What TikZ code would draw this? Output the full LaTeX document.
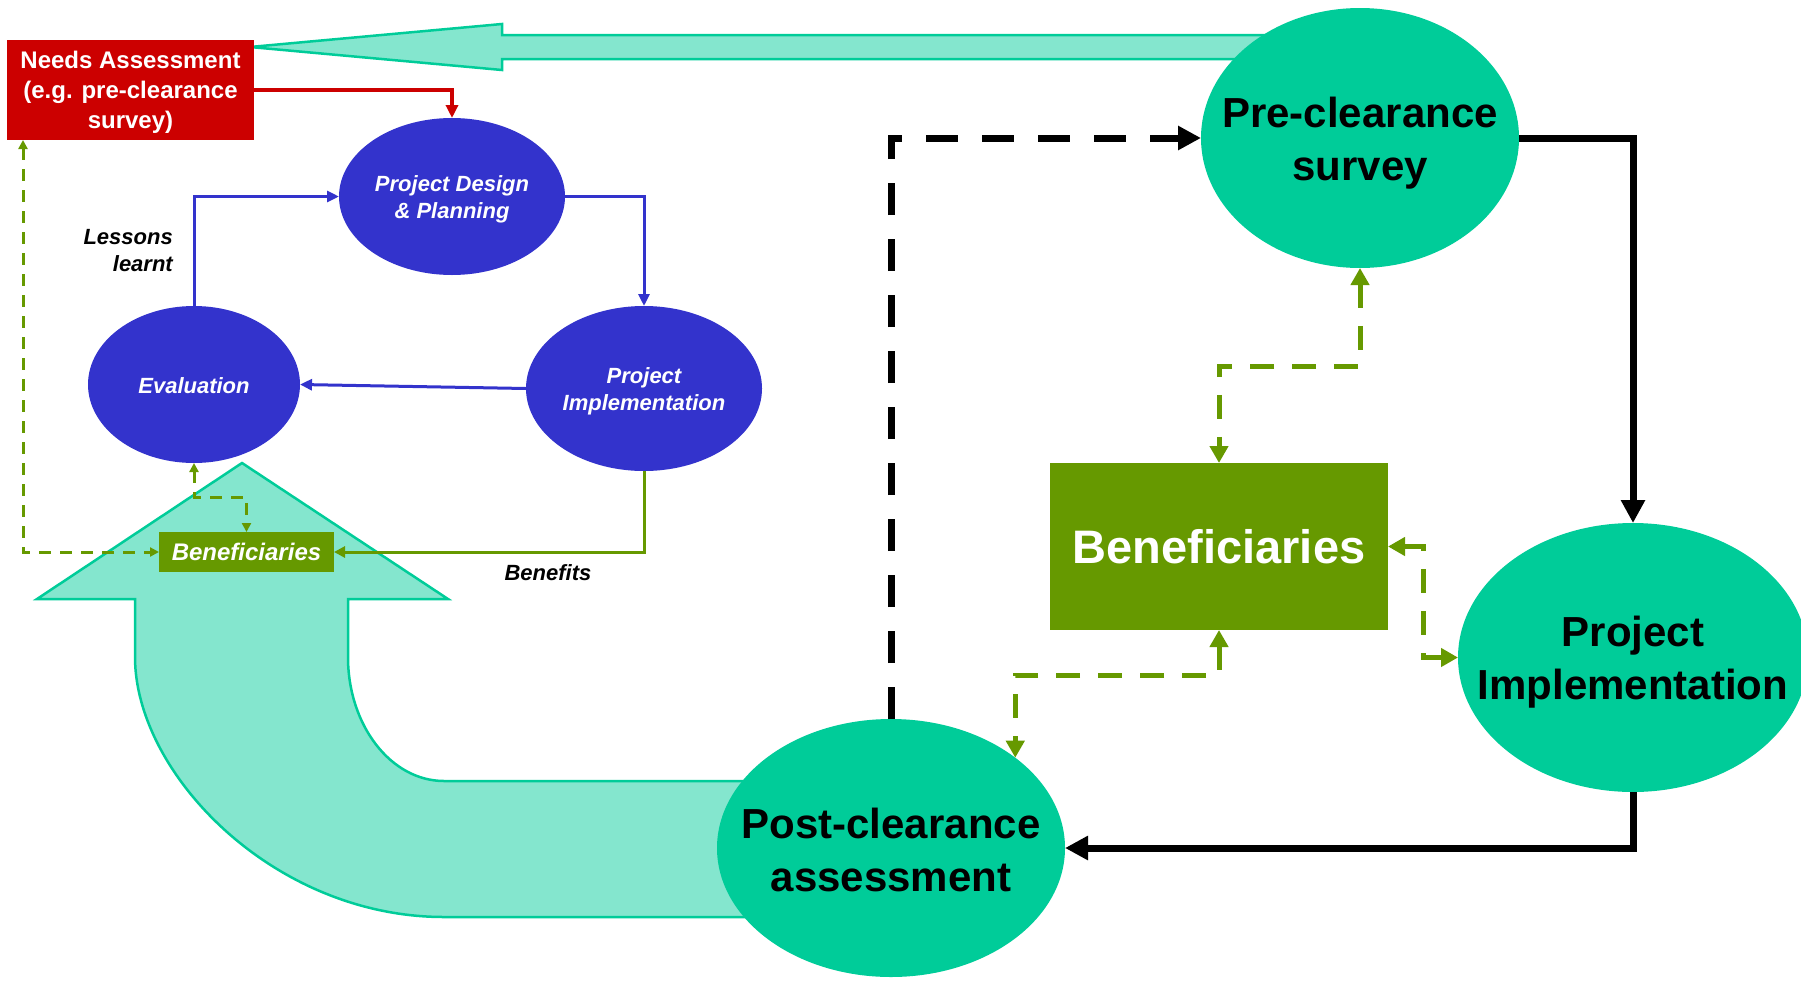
\documentclass[tikz,border=0pt]{standalone}
\usepackage{fontspec}
\setmainfont{Liberation Sans}
\usetikzlibrary{shapes.geometric,arrows.meta,calc}
\definecolor{tealC}{HTML}{00CC99}
\definecolor{tealL}{HTML}{84E6CE}
\definecolor{blueC}{HTML}{3333CC}
\definecolor{greenC}{HTML}{669900}
\definecolor{redC}{HTML}{CC0000}
\begin{document}
\begin{tikzpicture}[x=1pt,y=-1pt,
  ell/.style={ellipse, inner sep=0pt, outer sep=0pt, draw=none},
  bigell/.style={ell, fill=tealC},
  smallell/.style={ell, fill=blueC},
  bigtxt/.style={align=center, inner sep=0pt, text=black, yshift=-5pt, font=\fontsize{42}{53}\selectfont\bfseries},
  smalltxt/.style={align=center, inner sep=0pt, text=white, yshift=-3pt, font=\fontsize{22}{27}\selectfont\bfseries\itshape},
  labeltxt/.style={inner sep=0pt, text=black, font=\fontsize{22}{27}\selectfont\bfseries\itshape},
  bigarrow/.style={fill=tealL, draw=tealC, line width=2.5pt, line join=miter},
  blackline/.style={draw=black, line width=7pt, -{Triangle[length=23pt,width=23pt]}},
  blackdash/.style={blackline, dash pattern=on 32pt off 24pt},
  greendash/.style={draw=greenC, line width=5pt, dash pattern=on 24pt off 18pt, {Triangle[length=17pt,width=18pt]}-{Triangle[length=17pt,width=18pt]}},
  greensmall/.style={draw=greenC, line width=3pt, dash pattern=on 12pt off 9pt, {Triangle[length=9pt,width=9pt]}-{Triangle[length=9pt,width=9pt]}},
  greensolid/.style={draw=greenC, line width=3pt, -{Triangle[length=11pt,width=11pt]}},
  blueline/.style={draw=blueC, line width=3pt, -{Triangle[length=12pt,width=11pt]}},
  redline/.style={draw=redC, line width=3.5pt, -{Triangle[length=13pt,width=12pt]}}
]
\useasboundingbox (0,0) rectangle (1801,980);

% big teal arrows (background)
\draw[bigarrow] (250,47) -- (502,24) -- (502,35) -- (1330,35) -- (1330,59) -- (502,59) -- (502,70) -- cycle;
\draw[bigarrow] (242,463) -- (448,599) -- (348,599) -- (348,657)
   .. controls (348,725.5) and (391,781) .. (444,781)
   -- (800,781) -- (800,917) -- (444,917)
   .. controls (273.3,917) and (135,773.4) .. (135,657)
   -- (135,599) -- (37,599) -- cycle;

% left cycle
\node[fill=redC, minimum width=247pt, minimum height=100pt, inner sep=0pt, outer sep=0pt] (needs) at (130.5,90) {};
\node[align=center, inner sep=0pt, text=white, yshift=-2.5pt, font=\fontsize{24}{30}\selectfont\bfseries] at (needs)
      {Needs Assessment\\(e.g. pre-clearance\\survey)};
\node[smallell, minimum width=226pt, minimum height=157pt] (design) at (452,196.5) {};
\node[smalltxt] at (design) {Project Design\\\& Planning};
\node[smallell, minimum width=212pt, minimum height=157pt] (eval) at (194,384.5) {};
\node[smalltxt, yshift=2pt] at (eval) {Evaluation};
\node[smallell, minimum width=236pt, minimum height=165pt] (impls) at (644,388.5) {};
\node[smalltxt] at (impls) {Project\\Implementation};
\node[fill=greenC, minimum width=175pt, minimum height=40pt, inner sep=0pt, outer sep=0pt,
      text=white, font=\fontsize{24}{29}\selectfont\bfseries\itshape] (bens) at (246.5,552) {Beneficiaries};
\node[labeltxt, align=right, anchor=east] (lessons) at (173,250.5) {Lessons\\learnt};
\node[labeltxt] (benefits) at (548,573) {Benefits};

\draw[redline] (needs.east) -| (design.north);
\draw[blueline] (eval.north) |- (design.west);
\draw[blueline] (design.east) -| (impls.north);
\draw[blueline] (impls.west) -- (eval.east);
\draw[greensolid] (impls.south) |- (bens.east);
\coordinate (nl) at (23,552);
\draw[greensmall] (needs.south -| nl) -- (nl) -- (bens.west);
\draw[greensmall] (eval.south) -- ++(0,34) -| (bens.north);

% right cycle
\node[bigell, minimum width=318pt, minimum height=260pt] (pre) at (1360,138) {};
\node[bigtxt] at (pre) {Pre-clearance\\survey};
\node[bigell, minimum width=348pt, minimum height=258pt] (post) at (891,848) {};
\node[bigtxt, yshift=3pt] at (post) {Post-clearance\\assessment};
\node[bigell, minimum width=350pt, minimum height=269pt] (impl) at (1633,657.5) {};
\node[bigtxt] at (impl) {Project\\Implementation};
\node[fill=greenC, minimum width=338pt, minimum height=167pt, inner sep=0pt, outer sep=0pt,
      text=white, font=\fontsize{47}{56}\selectfont\bfseries] (benb) at (1219,546.5) {Beneficiaries};

\draw[blackdash] (post.north) |- (pre.west);
\draw[blackline] (pre.east) -| (impl.north);
\draw[blackline] (impl.south) |- (post.east);
\draw[greendash] (pre.south) -- ++(0,98) -| (benb.north);
\draw[greendash] (benb.east) -- ++(35,0) |- (impl.west);
\draw[greendash] (benb.south) -- ++(0,45) -| (post.36.5);
\end{tikzpicture}
\end{document}
